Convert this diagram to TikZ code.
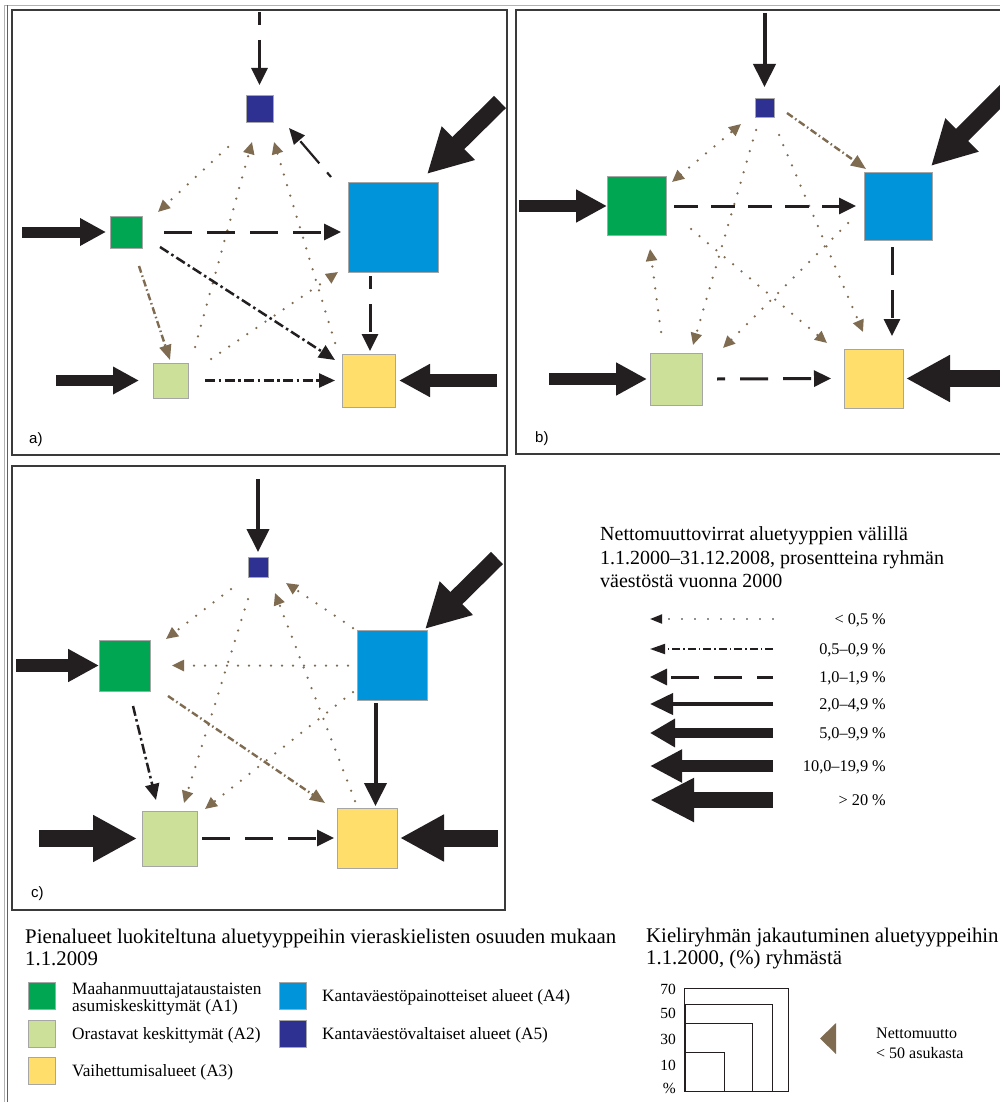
\documentclass[tikz,border=0pt]{standalone}
\usepackage{fontspec}
\setmainfont{Liberation Serif}
\newfontfamily\sansf{Liberation Sans}
\usetikzlibrary{arrows.meta,calc}
\definecolor{cA1}{HTML}{00A651}
\definecolor{cA2}{HTML}{CDE09A}
\definecolor{cA3}{HTML}{FFDE6C}
\definecolor{cA4}{HTML}{0095DA}
\definecolor{cA5}{HTML}{2E3192}
\definecolor{cBk}{HTML}{231F20}
\definecolor{cBr}{HTML}{7E6B50}
\definecolor{cFr}{HTML}{3A3A3A}
\tikzset{
  sq/.style={draw=black!35, line width=0.8pt, inner sep=0pt, outer sep=0pt, minimum size=#1},
  panel/.style={draw=cFr, line width=1.1pt},
  fdot/.style={draw=cBr, line width=2.5pt, dash pattern=on 0pt off 11pt, line cap=round, -{Triangle[length=12pt,width=11pt,fill=cBr]}},
  fdotb/.style={draw=cBr, line width=2.5pt, dash pattern=on 0pt off 11pt, line cap=round, {Triangle[length=12pt,width=11pt,fill=cBr]}-{Triangle[length=12pt,width=11pt,fill=cBr]}},
  fddbr/.style={draw=cBr, line width=2.4pt, dash pattern=on 7pt off 3pt on 1.5pt off 3pt, -{Triangle[length=15pt,width=12pt,fill=cBr]}},
  fddbk/.style={draw=cBk, line width=2.5pt, dash pattern=on 10pt off 3.5pt on 2.5pt off 3.5pt, -{Triangle[length=16pt,width=14pt]}},
  fdash/.style={draw=cBk, line width=3pt, dash pattern=on 28pt off 15pt, -{Triangle[length=17pt,width=16pt]}},
  fdasht/.style={draw=cBk, line width=2.2pt, dash pattern=on 29pt off 12pt, -{Triangle[length=16pt,width=14pt]}},
  fsol/.style={draw=cBk, line width=4pt, -{Triangle[length=23pt,width=22pt]}},
  fV/.style={draw=cBk, line width=11pt, -{Triangle[length=26pt,width=26pt]}},
  fX/.style={draw=cBk, line width=12.5pt, -{Triangle[length=31pt,width=31pt]}},
  fXX/.style={draw=cBk, line width=17pt, -{Triangle[length=44pt,width=44pt]}},
  ldot/.style={draw=cBk, line width=1.8pt, dash pattern=on 0pt off 13pt, line cap=round, -{Triangle[length=12pt,width=9pt]}},
  ldd/.style={draw=cBk, line width=1.8pt, dash pattern=on 8pt off 3pt on 1.5pt off 3pt, -{Triangle[length=15pt,width=10pt]}},
  lsol/.style={draw=cBk, line width=4pt, -{Triangle[length=23pt,width=21pt]}},
  lV/.style={draw=cBk, line width=10pt, -{Triangle[length=25pt,width=27pt]}},
  lX/.style={draw=cBk, line width=12pt, -{Triangle[length=32pt,width=31pt]}},
  lXX/.style={draw=cBk, line width=16pt, -{Triangle[length=44pt,width=41pt]}},
  ttl/.style={font=\fontsize{20}{24}\selectfont, anchor=base west, inner sep=0pt},
  ttlb/.style={font=\fontsize{20.8}{24}\selectfont, anchor=base west, inner sep=0pt},
  rng/.style={font=\fontsize{16.3}{19}\selectfont, anchor=base east, inner sep=0pt},
  itm/.style={font=\fontsize{17.3}{20}\selectfont, anchor=base west, inner sep=0pt},
  num/.style={font=\fontsize{15.5}{18}\selectfont, anchor=base east, inner sep=0pt},
  nmt/.style={font=\fontsize{16}{19}\selectfont, anchor=base west, inner sep=0pt},
  plab/.style={font=\sansf\fontsize{15}{18}\selectfont, anchor=base west, inner sep=0pt},
}
\begin{document}
\begin{tikzpicture}[x=1pt,y=-1pt]
\useasboundingbox (0,0) rectangle (1000,1102);
\fill[white] (0,0) rectangle (1000,1102);
% outer frame
\draw[gray!60, line width=1.6pt] (4.5,5.5) -- (1000,5.5);
\draw[gray!60, line width=1.3pt] (4.5,5.5) -- (4.5,1102);
\draw[cFr!80, line width=0.8pt] (7.5,5.5) -- (7.5,1102);
% panels
\draw[panel] (12,10) rectangle (507,455);
\draw[panel] (516,10) rectangle (1006,454);
\draw[panel] (12,466) rectangle (505,910);
\node[plab] (la) at (29,443) {a)};
\node[plab] (lb) at (535,442) {b)};
\node[plab] (lc) at (31,897) {c)};

% ---------- panel a ----------
\node[sq=27pt,fill=cA5] (a5) at (259.5,108.5) {};
\node[sq=90pt,fill=cA4] (a4) at (393,227) {};
\node[sq=32pt,fill=cA1] (a1) at (126,232) {};
\node[sq=35pt,fill=cA2] (a2) at (170.5,380.5) {};
\node[sq=53pt,fill=cA3] (a3) at (368.5,380.5) {};
\coordinate (a5in) at (259.5,12);
\coordinate (a4in) at (500,102);
\coordinate (a1in) at (22,232);
\coordinate (a2in) at (56,380.5);
\coordinate (a3in) at (497,380.5);
\draw[fdot] ([shift={(-31.5,38.5)}]a5.center) -- ([shift={(32,-20)}]a1.center);
\draw[fdot] ([shift={(24.5,-33.5)}]a2.center) -- ([shift={(-7.5,33.5)}]a5.center);
\draw[fdot] ([shift={(-33.5,-37.5)}]a3.center) -- ([shift={(14.5,33.5)}]a5.center);
\draw[fdot] ([shift={(40.5,-21.5)}]a2.center) -- ([shift={(-55,45)}]a4.center);
\draw[fdash,dash phase=15pt] (a5in) -- ([shift={(0,-23.5)}]a5.center);
\draw[fXX] (a4in) -- ([shift={(34,-53)}]a4.center);
\draw[fV] (a1in) -- ([shift={(-20,0)}]a1.center);
\draw[fV] (a2in) -- ([shift={(-31.5,0)}]a2.center);
\draw[fX] (a3in) -- ([shift={(30.5,0)}]a3.center);
\draw[fdash] ([shift={(38,0)}]a1.center) -- ([shift={(-52,5)}]a4.center);
\draw[fddbk] ([shift={(34,15)}]a1.center) -- ([shift={(-33.5,-20.5)}]a3.center);
\draw[fddbr] ([shift={(13,34)}]a1.center) -- ([shift={(-0.5,-20.5)}]a2.center);
\draw[fddbk] ([shift={(34.5,0)}]a2.center) -- ([shift={(-33.5,0)}]a3.center);
\draw[fdasht,dash phase=23pt] ([shift={(-62,-50)}]a4.center) -- ([shift={(29.5,19.5)}]a5.center);
\draw[fdash,dash phase=15pt] ([shift={(-23,49)}]a4.center) -- ([shift={(1.5,-29.5)}]a3.center);

% ---------- panel b ----------
\node[sq=19pt,fill=cA5] (b5) at (764.5,107.5) {};
\node[sq=68pt,fill=cA4] (b4) at (898,206) {};
\node[sq=59pt,fill=cA1] (b1) at (636.5,206) {};
\node[sq=52pt,fill=cA2] (b2) at (676,379) {};
\node[sq=59pt,fill=cA3] (b3) at (873.5,378.5) {};
\coordinate (b5in) at (764.5,13);
\coordinate (b4in) at (1012,85);
\coordinate (b1in) at (519,206);
\coordinate (b2in) at (549,379);
\coordinate (b3in) at (1012,378.5);
\draw[fdotb] ([shift={(35.5,-24)}]b1.center) -- ([shift={(-23.5,16.5)}]b5.center);
\draw[fdot] ([shift={(-15,-47)}]b2.center) -- ([shift={(13.5,43)}]b1.center);
\draw[fdot] ([shift={(-8.5,22.5)}]b5.center) -- ([shift={(17,-34)}]b2.center);
\draw[fdot] ([shift={(-50,17)}]b4.center) -- ([shift={(47,-31)}]b2.center);
\draw[fdot] ([shift={(54.5,23)}]b1.center) -- ([shift={(-46.5,-35.5)}]b3.center);
\draw[fdot] ([shift={(14.5,27.5)}]b5.center) -- ([shift={(-10.5,-46.5)}]b3.center);
\draw[fsol] (b5in) -- ([shift={(0,-20.5)}]b5.center);
\draw[fXX] (b4in) -- ([shift={(33,-40)}]b4.center);
\draw[fX] (b1in) -- ([shift={(-29.5,0)}]b1.center);
\draw[fX] (b2in) -- ([shift={(-29,0)}]b2.center);
\draw[fXX] (b3in) -- ([shift={(32.5,0)}]b3.center);
\draw[fdash,dash pattern=on 24pt off 13pt] ([shift={(37.5,0)}]b1.center) -- ([shift={(-42,0)}]b4.center);
\draw[fdash] ([shift={(-6,41)}]b4.center) -- ([shift={(18.5,-42.5)}]b3.center);
\draw[fdash,dash phase=20pt] ([shift={(41,0)}]b2.center) -- ([shift={(-42.5,0)}]b3.center);
\draw[fddbr] ([shift={(22.5,5.5)}]b5.center) -- ([shift={(-32,-37)}]b4.center);

% ---------- panel c ----------
\node[sq=20pt,fill=cA5] (c5) at (258,567) {};
\node[sq=70pt,fill=cA4] (c4) at (392,665) {};
\node[sq=51pt,fill=cA1] (c1) at (125,665.5) {};
\node[sq=55pt,fill=cA2] (c2) at (169.5,838.5) {};
\node[sq=60pt,fill=cA3] (c3) at (367,838) {};
\coordinate (c5in) at (258,479);
\coordinate (c4in) at (497,558);
\coordinate (c1in) at (16,665.5);
\coordinate (c2in) at (39,838.5);
\coordinate (c3in) at (498,838);
\draw[fdot] ([shift={(-27,22)}]c5.center) -- ([shift={(41,-26.5)}]c1.center);
\draw[fdot] ([shift={(-44,0.5)}]c4.center) -- ([shift={(47,0)}]c1.center);
\draw[fdot] ([shift={(-39,-37)}]c4.center) -- ([shift={(28,16)}]c5.center);
\draw[fdot] ([shift={(-12,-37)}]c3.center) -- ([shift={(17,26)}]c5.center);
\draw[fdot] ([shift={(-10,32)}]c5.center) -- ([shift={(14.5,-35.5)}]c2.center);
\draw[fdot] ([shift={(-39,27)}]c4.center) -- ([shift={(35.5,-29.5)}]c2.center);
\draw[fsol] (c5in) -- ([shift={(0,-15)}]c5.center);
\draw[fXX] (c4in) -- ([shift={(33,-36)}]c4.center);
\draw[fX] (c1in) -- ([shift={(-26,0)}]c1.center);
\draw[fXX] (c2in) -- ([shift={(-32.5,0)}]c2.center);
\draw[fXX] (c3in) -- ([shift={(33,0)}]c3.center);
\draw[fsol] ([shift={(-16.5,38)}]c4.center) -- ([shift={(8.5,-32)}]c3.center);
\draw[fdash] ([shift={(32.5,-0.5)}]c2.center) -- ([shift={(-33,0)}]c3.center);
\draw[fddbk] ([shift={(8,40.5)}]c1.center) -- ([shift={(-13.5,-38.5)}]c2.center);
\draw[fddbr] ([shift={(43,30.5)}]c1.center) -- ([shift={(-42,-35)}]c3.center);

% ---------- flow legend ----------
\node[ttl] (t1) at (600,540) {Nettomuuttovirrat aluetyyppien välillä};
\node[ttl] (t2) at (600,564) {1.1.2000–31.12.2008, prosentteina ryhmän};
\node[ttl] (t3) at (600,587) {väestöstä vuonna 2000};
\foreach \i/\y in {1/619,2/649,3/677,4/704,5/733,6/766,7/800}{
  \coordinate (L\i t) at (773,\y);
  \coordinate (L\i h) at (650,\y);
}
\draw[ldot] (L1t) -- (L1h);
\draw[ldd] (L2t) -- (L2h);
\draw[fdash,dash phase=12pt] (L3t) -- (L3h);
\draw[lsol] (L4t) -- (L4h);
\draw[lV] (L5t) -- (L5h);
\draw[lX] (L6t) -- (L6h);
\draw[lXX] (L7t) -- (L7h);
\node[rng] (r1) at (886,624.5) {< 0,5 \%};
\node[rng] (r2) at (886,654.5) {0,5–0,9 \%};
\node[rng] (r3) at (886,682.5) {1,0–1,9 \%};
\node[rng] (r4) at (886,709.5) {2,0–4,9 \%};
\node[rng] (r5) at (886,738.5) {5,0–9,9 \%};
\node[rng] (r6) at (886,771.5) {10,0–19,9 \%};
\node[rng] (r7) at (886,805.5) {> 20 \%};

% ---------- area legend ----------
\node[ttlb] (p1) at (25,943) {Pienalueet luokiteltuna aluetyyppeihin vieraskielisten osuuden mukaan};
\node[ttlb] (p2) at (25,965) {1.1.2009};
\node[sq=27pt,fill=cA1] (sw1) at (42,996) {};
\node[sq=27pt,fill=cA2] (sw2) at (42,1034) {};
\node[sq=27pt,fill=cA3] (sw3) at (42,1071) {};
\node[sq=27pt,fill=cA4] (sw4) at (293,996) {};
\node[sq=27pt,fill=cA5] (sw5) at (293,1034) {};
\node[itm] (i1a) at (72,994) {Maahanmuuttajataustaisten};
\node[itm] (i1b) at (72,1011) {asumiskeskittymät (A1)};
\node[itm] (i2) at (72,1039) {Orastavat keskittymät (A2)};
\node[itm] (i3) at (72,1076) {Vaihettumisalueet (A3)};
\node[itm] (i4) at (322,1001) {Kantaväestöpainotteiset alueet (A4)};
\node[itm] (i5) at (322,1039) {Kantaväestövaltaiset alueet (A5)};

% ---------- size legend ----------
\node[ttlb] (k1) at (646,942) {Kieliryhmän jakautuminen aluetyyppeihin};
\node[ttlb] (k2) at (646,964) {1.1.2000, (\%) ryhmästä};
\draw[cBk, line width=1pt] (684,1091) rectangle (788,988);
\draw[cBk, line width=1pt] (685,1091) rectangle (772,1004);
\draw[cBk, line width=1pt] (685,1091) rectangle (752,1023);
\draw[cBk, line width=1pt] (685,1091) rectangle (724,1052);
\node[num] (n70) at (676,994) {70};
\node[num] (n50) at (676,1018) {50};
\node[num] (n30) at (676,1044) {30};
\node[num] (n10) at (676,1070) {10};
\node[num] (npc) at (676,1093) {\%};
\fill[cBr] (820,1038.5) -- (836,1023) -- (836,1054) -- cycle;
\node[nmt] (nm1) at (876,1038) {Nettomuutto};
\node[nmt] (nm2) at (876,1058) {< 50 asukasta};
\end{tikzpicture}
\end{document}
